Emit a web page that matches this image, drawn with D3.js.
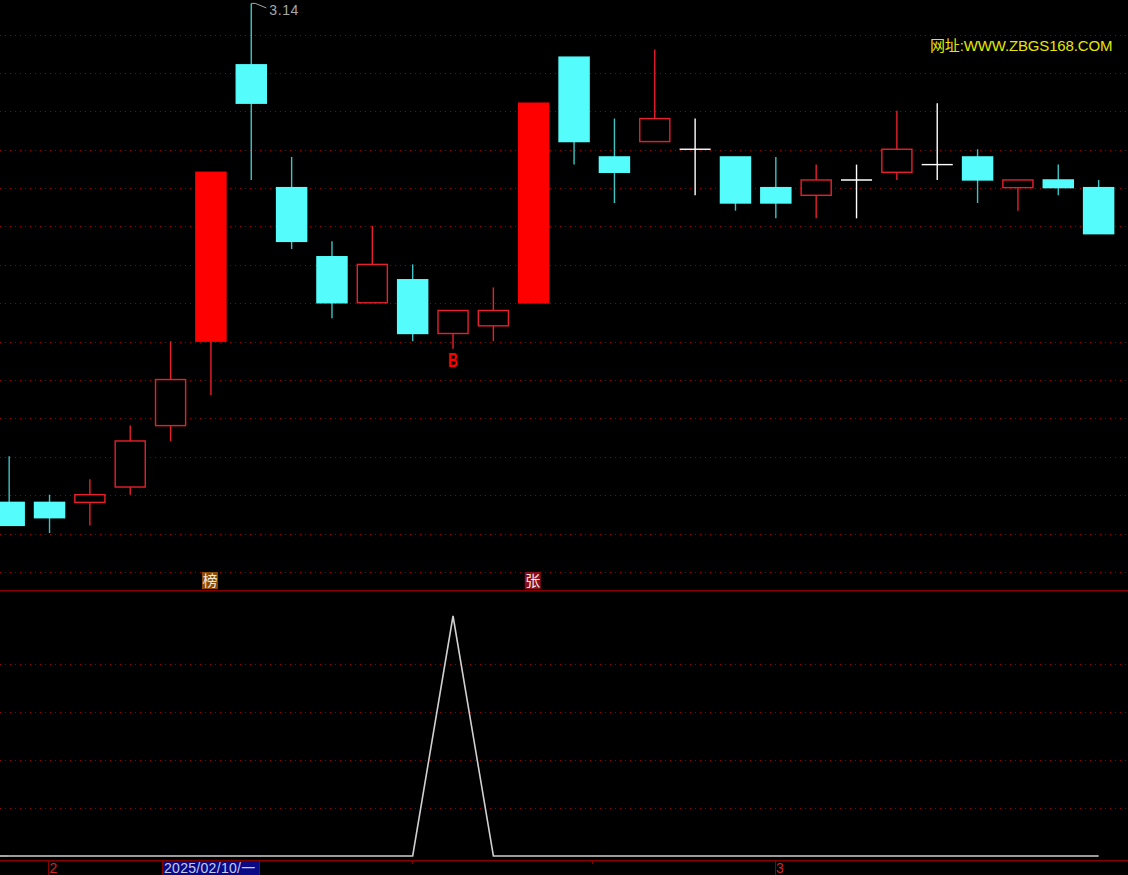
<!DOCTYPE html>
<html>
<head>
<meta charset="utf-8">
<script src="https://cdn.jsdelivr.net/npm/d3@7"></script>
<style>
    html, body { margin: 0; padding: 0; background: #000; overflow: hidden; }
    svg { display: block; }
</style>
</head>
<body>
<div id="chart"></div>
<script>
// One entry per trading day, left to right
const opens  = [2.49, 2.49, 2.49, 2.51, 2.59, 2.70, 3.06, 2.90, 2.81, 2.75, 2.78, 2.71, 2.72, 2.75, 3.07, 2.94, 2.96, 2.95, 2.94, 2.90, 2.89, 2.91, 2.92, 2.93, 2.94, 2.90, 2.91, 2.90];
const closes = [2.46, 2.47, 2.50, 2.57, 2.65, 2.92, 3.01, 2.83, 2.75, 2.80, 2.71, 2.74, 2.74, 3.01, 2.96, 2.92, 2.99, 2.95, 2.88, 2.88, 2.91, 2.91, 2.95, 2.93, 2.91, 2.91, 2.90, 2.84];
const highs  = [2.55, 2.50, 2.52, 2.59, 2.70, 2.92, 3.14, 2.94, 2.83, 2.85, 2.80, 2.74, 2.77, 3.01, 3.07, 2.99, 3.08, 2.99, 2.94, 2.94, 2.93, 2.93, 3.00, 3.01, 2.95, 2.91, 2.93, 2.91];
const lows   = [2.46, 2.45, 2.46, 2.50, 2.57, 2.63, 2.91, 2.82, 2.73, 2.75, 2.70, 2.69, 2.70, 2.75, 2.93, 2.88, 2.96, 2.89, 2.87, 2.86, 2.86, 2.86, 2.91, 2.91, 2.88, 2.87, 2.89, 2.84];
const solidDays = [5, 13];              // limit-up days, filled red
const indicator = [0, 0, 0, 0, 0, 0, 0, 0, 0, 0, 0, 100, 0, 0, 0, 0, 0, 0, 0, 0, 0, 0, 0, 0, 0, 0, 0, 0];
const priceGrid = [0, 1, 2, 3, 4, 5, 6, 7, 8, 9, 10, 11, 12, 13, 14];
const indicatorGrid = [80, 60, 40, 20];
const maxLabel = "3.14";
const siteLabel = "网址:WWW.ZBGS168.COM";
const dateLabel = "2025/02/10/一";
const badgeDays = [5, 13];
const badgeTexts = ["榜", "张"];
const badgeColors = ["#8a4a08", "#8a0d1e"];

const width = 1128, height = 875;
const upColor = "#e8202c", downColor = "#54fcfc", flatColor = "#ffffff";
const gridColor = "#960000", axisColor = "#860000";

const svg = d3.select("#chart").append("svg")
    .attr("width", width)
    .attr("height", height)
    .style("background", "#000");

// Scales
const x = d3.scaleBand().domain(d3.range(opens.length)).range([-11, 1118.8]).paddingInner(0.23).paddingOuter(0.115);
const cx = i => x(i) + x.bandwidth() / 2;
const y = d3.scaleLinear().domain([2.46, 3.14]).range([525.4, 3.4]);
const gridY = d3.scaleLinear().domain([0, 14]).range([34.5, 572]);
const yInd = d3.scaleLinear().domain([0, 100]).range([856, 616]);

// Grid lines
const dotted = (sel, fn) => sel.append("line")
    .attr("x1", 0).attr("x2", width)
    .attr("y1", fn).attr("y2", fn)
    .attr("stroke", gridColor)
    .attr("stroke-dasharray", "1,4")
    .attr("shape-rendering", "crispEdges");

dotted(svg.append("g").selectAll("line").data(priceGrid).enter(), d => Math.round(gridY(d)) + 0.5);
dotted(svg.append("g").selectAll("line").data(indicatorGrid).enter(), d => Math.round(yInd(d)) + 0.5);

// Pane borders
svg.selectAll(".pane-line")
    .data([590.7, 860.7])
    .enter()
    .append("line")
    .attr("class", "pane-line")
    .attr("x1", 0).attr("x2", width)
    .attr("y1", d => d).attr("y2", d => d)
    .attr("stroke", axisColor)
    .attr("stroke-width", 1.5);

// Candles
const colorOf = i => closes[i] > opens[i] ? upColor : closes[i] < opens[i] ? downColor : flatColor;
const wickOf = i => closes[i] < opens[i] ? "#3cc4c4" : colorOf(i);
const candles = svg.append("g").selectAll("g").data(d3.range(opens.length)).enter().append("g");

candles.append("line")
    .attr("x1", i => cx(i)).attr("x2", i => cx(i))
    .attr("y1", i => y(highs[i])).attr("y2", i => y(lows[i]))
    .attr("stroke", wickOf)
    .attr("stroke-width", 1.4);

candles.filter(i => closes[i] !== opens[i]).append("rect")
    .attr("x", i => x(i) + 0.5)
    .attr("width", x.bandwidth() - 1)
    .attr("y", i => y(Math.max(opens[i], closes[i])))
    .attr("height", i => Math.abs(y(opens[i]) - y(closes[i])))
    .attr("fill", i => closes[i] < opens[i] ? downColor : solidDays.includes(i) ? "#ff0000" : "#000")
    .attr("stroke", i => solidDays.includes(i) ? "#ff0000" : colorOf(i))
    .attr("stroke-width", 1.4);

candles.filter(i => closes[i] === opens[i]).append("line")
    .attr("x1", i => x(i)).attr("x2", i => x(i) + x.bandwidth())
    .attr("y1", i => y(opens[i])).attr("y2", i => y(opens[i]))
    .attr("stroke", flatColor)
    .attr("stroke-width", 1.4);

// Max price marker
const peak = highs.indexOf(d3.max(highs));
svg.append("path")
    .attr("d", d3.line()([[cx(peak), y(highs[peak])], [cx(peak) + 4, y(highs[peak])], [cx(peak) + 15, y(highs[peak]) + 4.5]]))
    .attr("fill", "none")
    .attr("stroke", "#a8a8a8");

svg.append("text")
    .attr("x", cx(peak) + 18)
    .attr("y", 15)
    .attr("fill", "#a8a8a8")
    .style("font-family", "Liberation Sans")
    .style("font-size", "14px")
    .style("letter-spacing", "0.6px")
    .text(maxLabel);

svg.append("text")
    .attr("x", 930)
    .attr("y", 51)
    .attr("fill", "#e6e600")
    .style("font-family", "'Liberation Sans', 'Noto Sans CJK SC'")
    .style("font-size", "15px")
    .style("letter-spacing", "-0.15px")
    .text(siteLabel);

// Signal letter
svg.append("text")
    .attr("x", cx(11) - 5)
    .attr("y", 367)
    .attr("textLength", 10)
    .attr("lengthAdjust", "spacingAndGlyphs")
    .attr("fill", "#ff0000")
    .style("font-family", "'Liberation Sans'")
    .style("font-weight", "bold")
    .style("font-size", "20px")
    .text("B");

// Event badges
badgeDays.forEach((d, k) => {
    svg.append("rect")
        .attr("x", cx(d) - 9).attr("y", 572).attr("width", 16).attr("height", 17)
        .attr("fill", badgeColors[k]);
    svg.append("text")
        .attr("x", cx(d) - 1).attr("y", 586)
        .attr("text-anchor", "middle")
        .attr("fill", "#f0e6dc")
        .style("font-family", "Noto Sans CJK SC")
        .style("font-size", "15px")
        .text(badgeTexts[k]);
});

// Indicator line
const line = d3.line().x((d, i) => cx(i)).y(d => yInd(d));
svg.append("path")
    .datum(indicator)
    .attr("d", line)
    .attr("fill", "none")
    .attr("stroke", "#d0d0d0")
    .attr("stroke-width", 1.6);
svg.append("line")
    .attr("x1", 0).attr("x2", cx(0))
    .attr("y1", yInd(0)).attr("y2", yInd(0))
    .attr("stroke", "#d0d0d0")
    .attr("stroke-width", 1.6);

// Date axis
svg.append("rect")
    .attr("x", 162).attr("y", 861).attr("width", 97).attr("height", 14)
    .attr("fill", "#0a0a86");
svg.selectAll(".date-tick")
    .data([[48, 875], [162, 875], [259, 875], [412, 864], [592, 864], [775, 875]])
    .enter()
    .append("line")
    .attr("class", "date-tick")
    .attr("x1", d => d[0] + 0.5).attr("x2", d => d[0] + 0.5)
    .attr("y1", 860).attr("y2", d => d[1])
    .attr("stroke", axisColor)
    .attr("shape-rendering", "crispEdges");

const timeLabels = [{ x: 49.5, t: "2", c: "#c82828", s: 0 }, { x: 164, t: dateLabel, c: "#c8c8e6", s: 0.3 }, { x: 776, t: "3", c: "#c82828", s: 0 }];
svg.selectAll(".time-label")
    .data(timeLabels)
    .enter()
    .append("text")
    .attr("class", "time-label")
    .attr("x", d => d.x)
    .attr("y", 873)
    .attr("fill", d => d.c)
    .style("font-family", "'Liberation Sans', 'Noto Sans CJK SC'")
    .style("font-size", "14px")
    .style("letter-spacing", d => d.s + "px")
    .text(d => d.t);
</script>
</body>
</html>
